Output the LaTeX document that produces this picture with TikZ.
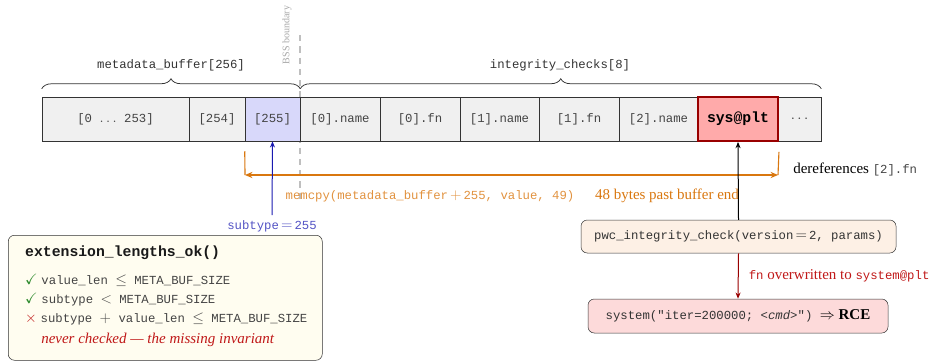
\documentclass[tikz,border=0pt,12pt]{standalone}
\usepackage{fontspec}
\usepackage{amssymb}
\setmainfont{Liberation Serif}
\setmonofont{Liberation Mono}[Scale=0.82]
\usetikzlibrary{arrows.meta,decorations.pathreplacing}

\definecolor{cellgray}{HTML}{F0F0F0}
\definecolor{edgegray}{HTML}{333333}
\definecolor{txtgray}{HTML}{444444}
\definecolor{slotblue}{HTML}{D8D8FA}
\definecolor{pltred}{HTML}{FFAAAA}
\definecolor{darkred}{HTML}{990000}
\definecolor{cpyorange}{HTML}{D9770F}
\definecolor{subblue}{HTML}{1A1AB0}
\definecolor{callpeach}{HTML}{FDF0E5}
\definecolor{rcepink}{HTML}{FDDADA}
\definecolor{panelcream}{HTML}{FFFDF0}
\definecolor{okgreen}{HTML}{2E8B2E}
\definecolor{badred}{HTML}{C01818}

\tikzset{
    cell/.style={draw=edgegray,fill=cellgray,minimum height=35.2pt,inner sep=0pt,font=\ttfamily,text=txtgray},
    brc/.style={decorate,decoration={brace,amplitude=8pt,raise=6.4pt},semithick,edgegray},
    hdr/.style={font=\ttfamily,text=edgegray},
    bss/.style={draw=black!25,line width=1.4pt,dash pattern=on 5pt off 4pt},
    cpy/.style={draw=cpyorange,line width=0.9pt},
    tip/.style={-{Stealth[length=5pt,width=4pt]}},
    box/.style={draw=edgegray,rounded corners=5pt,inner sep=0pt},
}

\begin{document}
\begin{tikzpicture}[x=0.8pt,y=-0.8pt]
\useasboundingbox (0,0) rectangle (930,362);
% \draw[step=10,gray,very thin] (0,0) grid (930,362);

        \coordinate (bsstop) at (300,35);
        \coordinate (bssbot) at (300,200);
        \draw[bss] (bsstop) -- (bssbot);
        \node (bsslbl) [rotate=90,font=\scriptsize,text=black!35] at (287,35) {BSS boundary};

        \foreach \nm/\xa/\xb/\txt in {lowbuf/42/189/{[0 $\ldots$ 253]}, b254/189/245/{[254]}, n0/300/380/{[0].name},
                f0/380/460/{[0].fn}, n1/460/539/{[1].name}, f1/539/619/{[1].fn}, n2/619/698/{[2].name}, more/778/821/{$\cdots$}}
            \node [cell,minimum width={(\xb-\xa)*0.8pt}] (\nm) at ({(\xa+\xb)/2},119) {\txt};
        \node (b255) [cell,fill=slotblue,minimum width=44pt] at (272.5,119) {[255]};
        \node (sysplt) [cell,fill=pltred,draw=darkred,line width=1.5pt,minimum width=64pt,text=black,font=\large\ttfamily\bfseries] at (738,119) {sys@plt};

        \draw[brc] (lowbuf.north west) -- (b255.north east);
        \draw[brc] (b255.north east) -- (more.north east);
        \node (metalbl) [hdr] at (171,65) {metadata\_buffer[256]};
        \node (intlbl) [hdr] at (560,65) {integrity\_checks[8]};

        \coordinate (cpyL) at (245,175);
        \coordinate (cpyR) at (778,175);
        \draw[cpy] ([yshift=-8pt]b255.south west) -- (cpyL);
        \draw[cpy] ([yshift=-8pt]sysplt.south east) -- (cpyR);
        \draw[cpy,{Stealth[length=6pt,width=5pt]}-{Stealth[length=6pt,width=5pt]}] (cpyL) -- (cpyR);
        \node (cpylbl) [font=\ttfamily,text=cpyorange!80] at (430,196) {memcpy(metadata\_buffer\,$+$\,255, value, 49)};
        \node (pastlbl) [text=cpyorange] at (667,196) {48 bytes past buffer end};
        \node (dereflbl) [anchor=west] at (788,169) {dereferences \texttt{\textcolor{txtgray}{[2].fn}}};

        \node (sublbl) [font=\ttfamily,text=subblue!75] at (272,226) {subtype\,$=$\,255};
        \draw[tip,subblue,thick] (sublbl.north) -- (b255.south);

        \node (pwc) [box,fill=callpeach,minimum width=252pt,minimum height=26.4pt,font=\ttfamily,text=edgegray] at (738.5,236.5) {pwc\_integrity\_check(version\,$=$\,2, params)};
        \draw[tip,thick] (pwc.north) -- (sysplt.south);
        \node (rce) [box,fill=rcepink,minimum width=240pt,minimum height=27.2pt] at (738,316)
            {\texttt{\textcolor{edgegray}{system("iter=200000; \textit{<cmd>}")}}\ \ $\Rightarrow$\ \textbf{RCE}};
        \draw[tip,darkred,thick] (pwc.south) -- node (ovwlbl) [anchor=west,xshift=4pt,text=badred] {\texttt{fn} overwritten to \texttt{system@plt}} (rce.north);

        \node (checks) [box,fill=panelcream,anchor=north west,minimum width=251.2pt,minimum height=100pt] at (8,235) {};
        \node (chkhead) [anchor=west,font=\large\ttfamily\bfseries,text=black!90] at (20,253) {extension\_lengths\_ok()};
        \node (chk1) [anchor=west] at (20,280) {\textcolor{okgreen}{$\checkmark$}\ \texttt{\textcolor{txtgray}{value\_len $\le$ META\_BUF\_SIZE}}};
        \node (chk2) [anchor=west] at (20,300) {\textcolor{okgreen}{$\checkmark$}\ \texttt{\textcolor{txtgray}{subtype $<$ META\_BUF\_SIZE}}};
        \node (chk3) [anchor=west] at (20,319) {\textcolor{badred}{$\times$}\ \texttt{\textcolor{txtgray}{subtype $+$ value\_len $\le$ META\_BUF\_SIZE}}};
        \node (chk4) [anchor=west,text=badred] at (36,340) {\textit{never checked --- the missing invariant}};

    \end{tikzpicture}
\end{document}
